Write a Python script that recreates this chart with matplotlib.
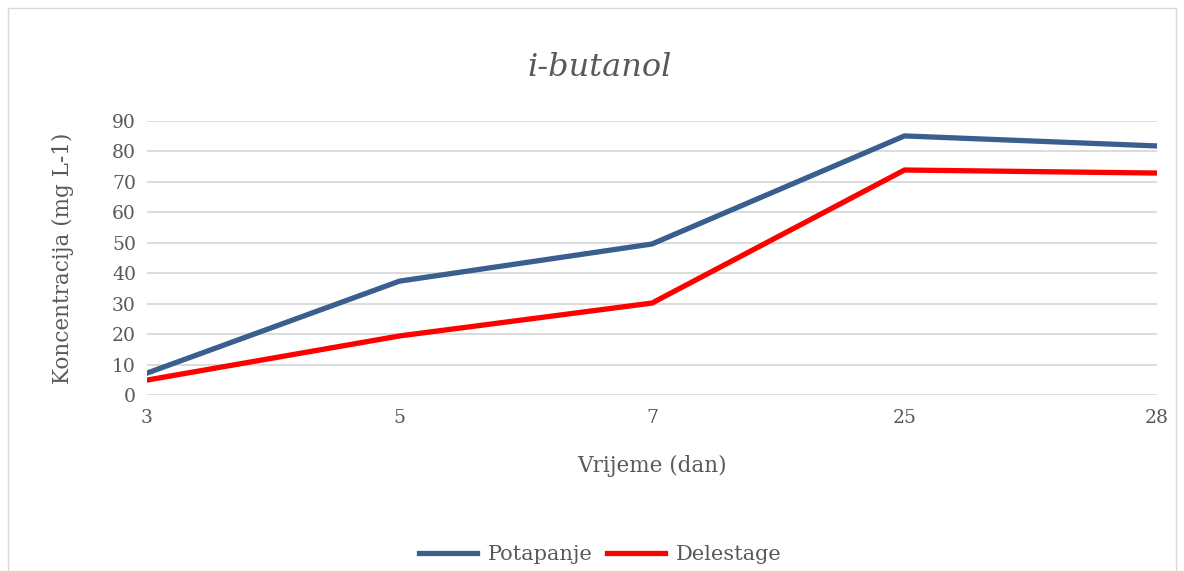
import matplotlib
matplotlib.use("Agg")
import matplotlib.pyplot as plt
from matplotlib.patches import Rectangle

# data
days = ["3", "5", "7", "25", "28"]
potapanje = [7.2, 37.4, 49.6, 85.1, 81.8]
delestage = [4.9, 19.4, 30.2, 73.9, 72.9]
yticks = list(range(0, 100, 10))

txt = "#595959"
plt.rcParams["font.family"] = ["DejaVu Serif"]

fig = plt.figure(figsize=(11.84, 5.71), dpi=100)
ax = fig.add_axes([147 / 1184, 1 - 395 / 571, (1157 - 147) / 1184, (395 - 121) / 571])

x = list(range(len(days)))
ax.plot(x, potapanje, color="#3A5F8F", lw=3.8, label="Potapanje", solid_joinstyle="miter")
ax.plot(x, delestage, color="#FF0000", lw=3.8, label="Delestage", solid_joinstyle="miter")

ax.set_xlim(0, len(days) - 1)
ax.set_ylim(0, 90)
ax.set_xticks(x)
ax.set_xticklabels(days)
ax.set_yticks(yticks)
ax.tick_params(axis="both", length=0, labelsize=13.5, colors=txt)
ax.tick_params(axis="x", pad=10)
ax.tick_params(axis="y", pad=8)
ax.grid(axis="y", color="#D9D9D9", lw=1.3)
ax.set_axisbelow(True)
for s in ax.spines.values():
    s.set_visible(False)

ax.set_ylabel("Koncentracija (mg L-1)", fontsize=15.5, color=txt, labelpad=27)
ax.set_xlabel("Vrijeme (dan)", fontsize=15.5, color=txt, labelpad=20)
fig.text(600 / 1184, 1 - 68 / 571, "i-butanol", ha="center", va="center",
         fontsize=23, style="italic", color=txt)

leg = fig.legend(loc="center", bbox_to_anchor=(600 / 1184, 1 - 555 / 571), ncol=2,
                 frameon=False, fontsize=15, handlelength=2.8, columnspacing=0.7,
                 handletextpad=0.5)
for t in leg.get_texts():
    t.set_color(txt)

fig.patches.append(Rectangle((8 / 1184, -0.01), 1168 / 1184, 1 - 8 / 571 + 0.01,
                             transform=fig.transFigure, fill=False,
                             edgecolor="#D9D9D9", lw=1))

fig.savefig("out.png", dpi=100)
